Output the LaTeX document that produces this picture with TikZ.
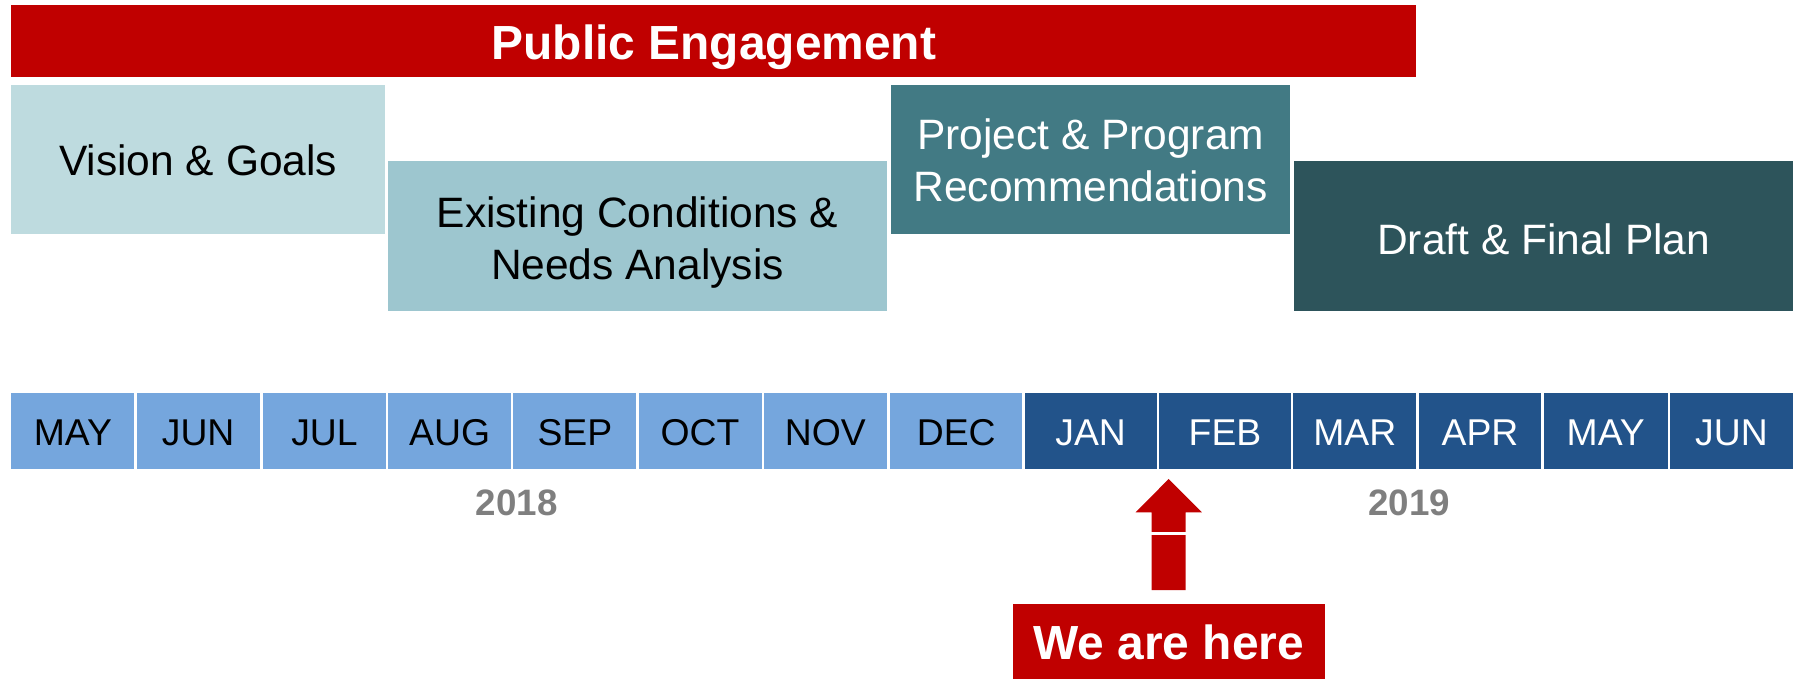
\documentclass[tikz,border=0pt]{standalone}
\usepackage{fontspec}
\setmainfont{Liberation Sans}
\definecolor{pered}{HTML}{C00000}
\definecolor{vision}{HTML}{BEDBDF}
\definecolor{exist}{HTML}{9DC6CF}
\definecolor{proj}{HTML}{427A84}
\definecolor{draft}{HTML}{2D545B}
\definecolor{mlight}{HTML}{75A6DD}
\definecolor{mdark}{HTML}{22538A}
\definecolor{yeargray}{HTML}{7F7F7F}
\newcommand{\lowered}[2]{\raisebox{-#1}[\height][\depth]{\begin{tabular}{@{}c@{}}#2\end{tabular}}}
\begin{document}
\begin{tikzpicture}[x=1pt,y=-1pt,
  boxbase/.style={rectangle, inner sep=0pt, outer sep=0pt, align=center},
  phase/.style={boxbase, font=\fontsize{37}{45}\selectfont},
  month/.style={boxbase, font=\fontsize{32.5}{38}\selectfont},
  boldlbl/.style={boxbase, font=\fontsize{41.7}{48}\selectfont\bfseries, text=white, fill=pered},
  yearlbl/.style={font=\fontsize{32}{38}\selectfont\bfseries, text=yeargray, inner sep=0pt}]
\useasboundingbox (0,0) rectangle (1568,591);
% Public engagement bar
\node[boldlbl, minimum width=1223pt, minimum height=63pt] (pe) at (621.5,35.5) {\lowered{7pt}{Public Engagement}};
% phases
\node[phase, fill=vision, text=black, minimum width=325pt, minimum height=130pt] (vg) at (172.5,139) {\lowered{4.5pt}{Vision \& Goals}};
\node[phase, fill=exist, text=black, minimum width=434pt, minimum height=131pt] (ec) at (555,205.5) {\lowered{6.5pt}{Existing Conditions \&\\Needs Analysis}};
\node[phase, fill=proj, text=white, minimum width=347pt, minimum height=130pt] (pp) at (949.5,139) {\lowered{5pt}{Project \& Program\\Recommendations}};
\node[phase, fill=draft, text=white, minimum width=434pt, minimum height=131pt] (dp) at (1344,205.5) {\lowered{7pt}{Draft \& Final Plan}};
% months
\foreach \nm/\lab/\xa/\xb/\fc/\tc in {
  m1/MAY/10/117/mlight/black, m2/JUN/119/226/mlight/black, m3/JUL/229/336/mlight/black,
  m4/AUG/338/445/mlight/black, m5/SEP/447/554/mlight/black, m6/OCT/556/663/mlight/black,
  m7/NOV/665/772/mlight/black, m8/DEC/775/890/mlight/black, m9/JAN/892/1007/mdark/white,
  m10/FEB/1009/1124/mdark/white, m11/MAR/1126/1233/mdark/white, m12/APR/1235/1342/mdark/white,
  m13/MAY/1344/1452/mdark/white, m14/JUN/1454/1561/mdark/white}{
  \node[month, fill=\fc, text=\tc, minimum width={(\xb-\xa)*1pt}, minimum height=66pt] (\nm) at ({(\xa+\xb)/2},375) {\lowered{5.5pt}{\lab}};
}
% years
\node[yearlbl] (y2018) at (450,438) {2018};
\node[yearlbl] (y2019) at (1227,438) {2019};
% arrow
\fill[pered] (1017.5,417) -- (1046.3,446) -- (1032.3,446) -- (1032.3,513.7) -- (1002.7,513.7) -- (1002.7,446) -- (988.7,446) -- cycle;
\draw[white, line width=2.5pt] (1002,464.8) -- (1033,464.8);
% we are here
\node[boldlbl, minimum width=272pt, minimum height=66pt] (here) at (1017.5,559) {We are here};
\end{tikzpicture}
\end{document}
